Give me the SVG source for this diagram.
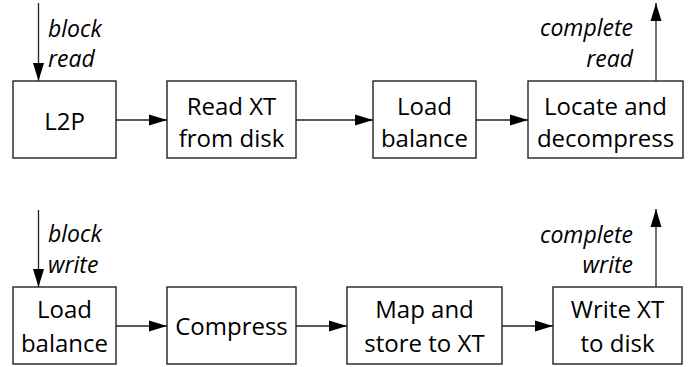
<svg xmlns="http://www.w3.org/2000/svg" width="691" height="367" viewBox="0 0 691 367">
<defs>
<marker id="ah" markerUnits="userSpaceOnUse" markerWidth="20" markerHeight="14" refX="18" refY="6" orient="auto">
<path d="M0,0.5 L18,6 L0,11.5 Z" fill="#000"/>
</marker>
</defs>
<style>
.box{fill:#fff;stroke:#222;stroke-width:1.4}
.t{font-family:"Open Sans","Liberation Sans",sans-serif;font-size:24px;fill:#000;text-anchor:middle}
.l{font-family:"Open Sans","Liberation Sans",sans-serif;font-size:23px;font-style:italic;fill:#000}
.r{text-anchor:end}
#connectors line{stroke:#222;stroke-width:1.3;marker-end:url(#ah)}
</style>
<rect width="691" height="367" fill="#fff"/>
<g id="connectors">
<line x1="38.5" y1="3" x2="38.5" y2="81"/>
<line x1="116" y1="120" x2="167" y2="120"/>
<line x1="296" y1="120" x2="373" y2="120"/>
<line x1="476" y1="120" x2="528" y2="120"/>
<line x1="656" y1="81" x2="656" y2="3"/>
<line x1="38.5" y1="210" x2="38.5" y2="287"/>
<line x1="116" y1="326" x2="167" y2="326"/>
<line x1="296" y1="326" x2="347" y2="326"/>
<line x1="502" y1="326" x2="553" y2="326"/>
<line x1="656" y1="287" x2="656" y2="209"/>
</g>
<g id="labels">
<text class="l" x="48" y="37">block</text>
<text class="l" x="48" y="67">read</text>
<text class="l r" x="633" y="36">complete</text>
<text class="l r" x="633" y="67">read</text>
<text class="l" x="48" y="242">block</text>
<text class="l" x="48" y="273">write</text>
<text class="l r" x="633" y="243">complete</text>
<text class="l r" x="633" y="273">write</text>
</g>
<g id="l2p"><rect class="box" x="13" y="81" width="103" height="77"/><text class="t" x="64.5" y="130">L2P</text></g>
<g id="readxt"><rect class="box" x="167" y="81" width="129" height="77"/><text class="t" x="231.5" y="115">Read XT</text><text class="t" x="231.5" y="147">from disk</text></g>
<g id="loadbalance1"><rect class="box" x="373" y="81" width="103" height="77"/><text class="t" x="424.5" y="115">Load</text><text class="t" x="424.5" y="147">balance</text></g>
<g id="locate"><rect class="box" x="528" y="81" width="155" height="77"/><text class="t" x="605.5" y="115">Locate and</text><text class="t" x="605.5" y="147">decompress</text></g>
<g id="loadbalance2"><rect class="box" x="13" y="287" width="103" height="77"/><text class="t" x="64.5" y="318">Load</text><text class="t" x="64.5" y="352">balance</text></g>
<g id="compress"><rect class="box" x="167" y="287" width="129" height="77"/><text class="t" x="231.5" y="335">Compress</text></g>
<g id="mapstore"><rect class="box" x="347" y="287" width="155" height="77"/><text class="t" x="424.5" y="318">Map and</text><text class="t" x="424.5" y="352">store to XT</text></g>
<g id="writext"><rect class="box" x="553" y="287" width="129" height="77"/><text class="t" x="617.5" y="318">Write XT</text><text class="t" x="617.5" y="352">to disk</text></g>
</svg>
